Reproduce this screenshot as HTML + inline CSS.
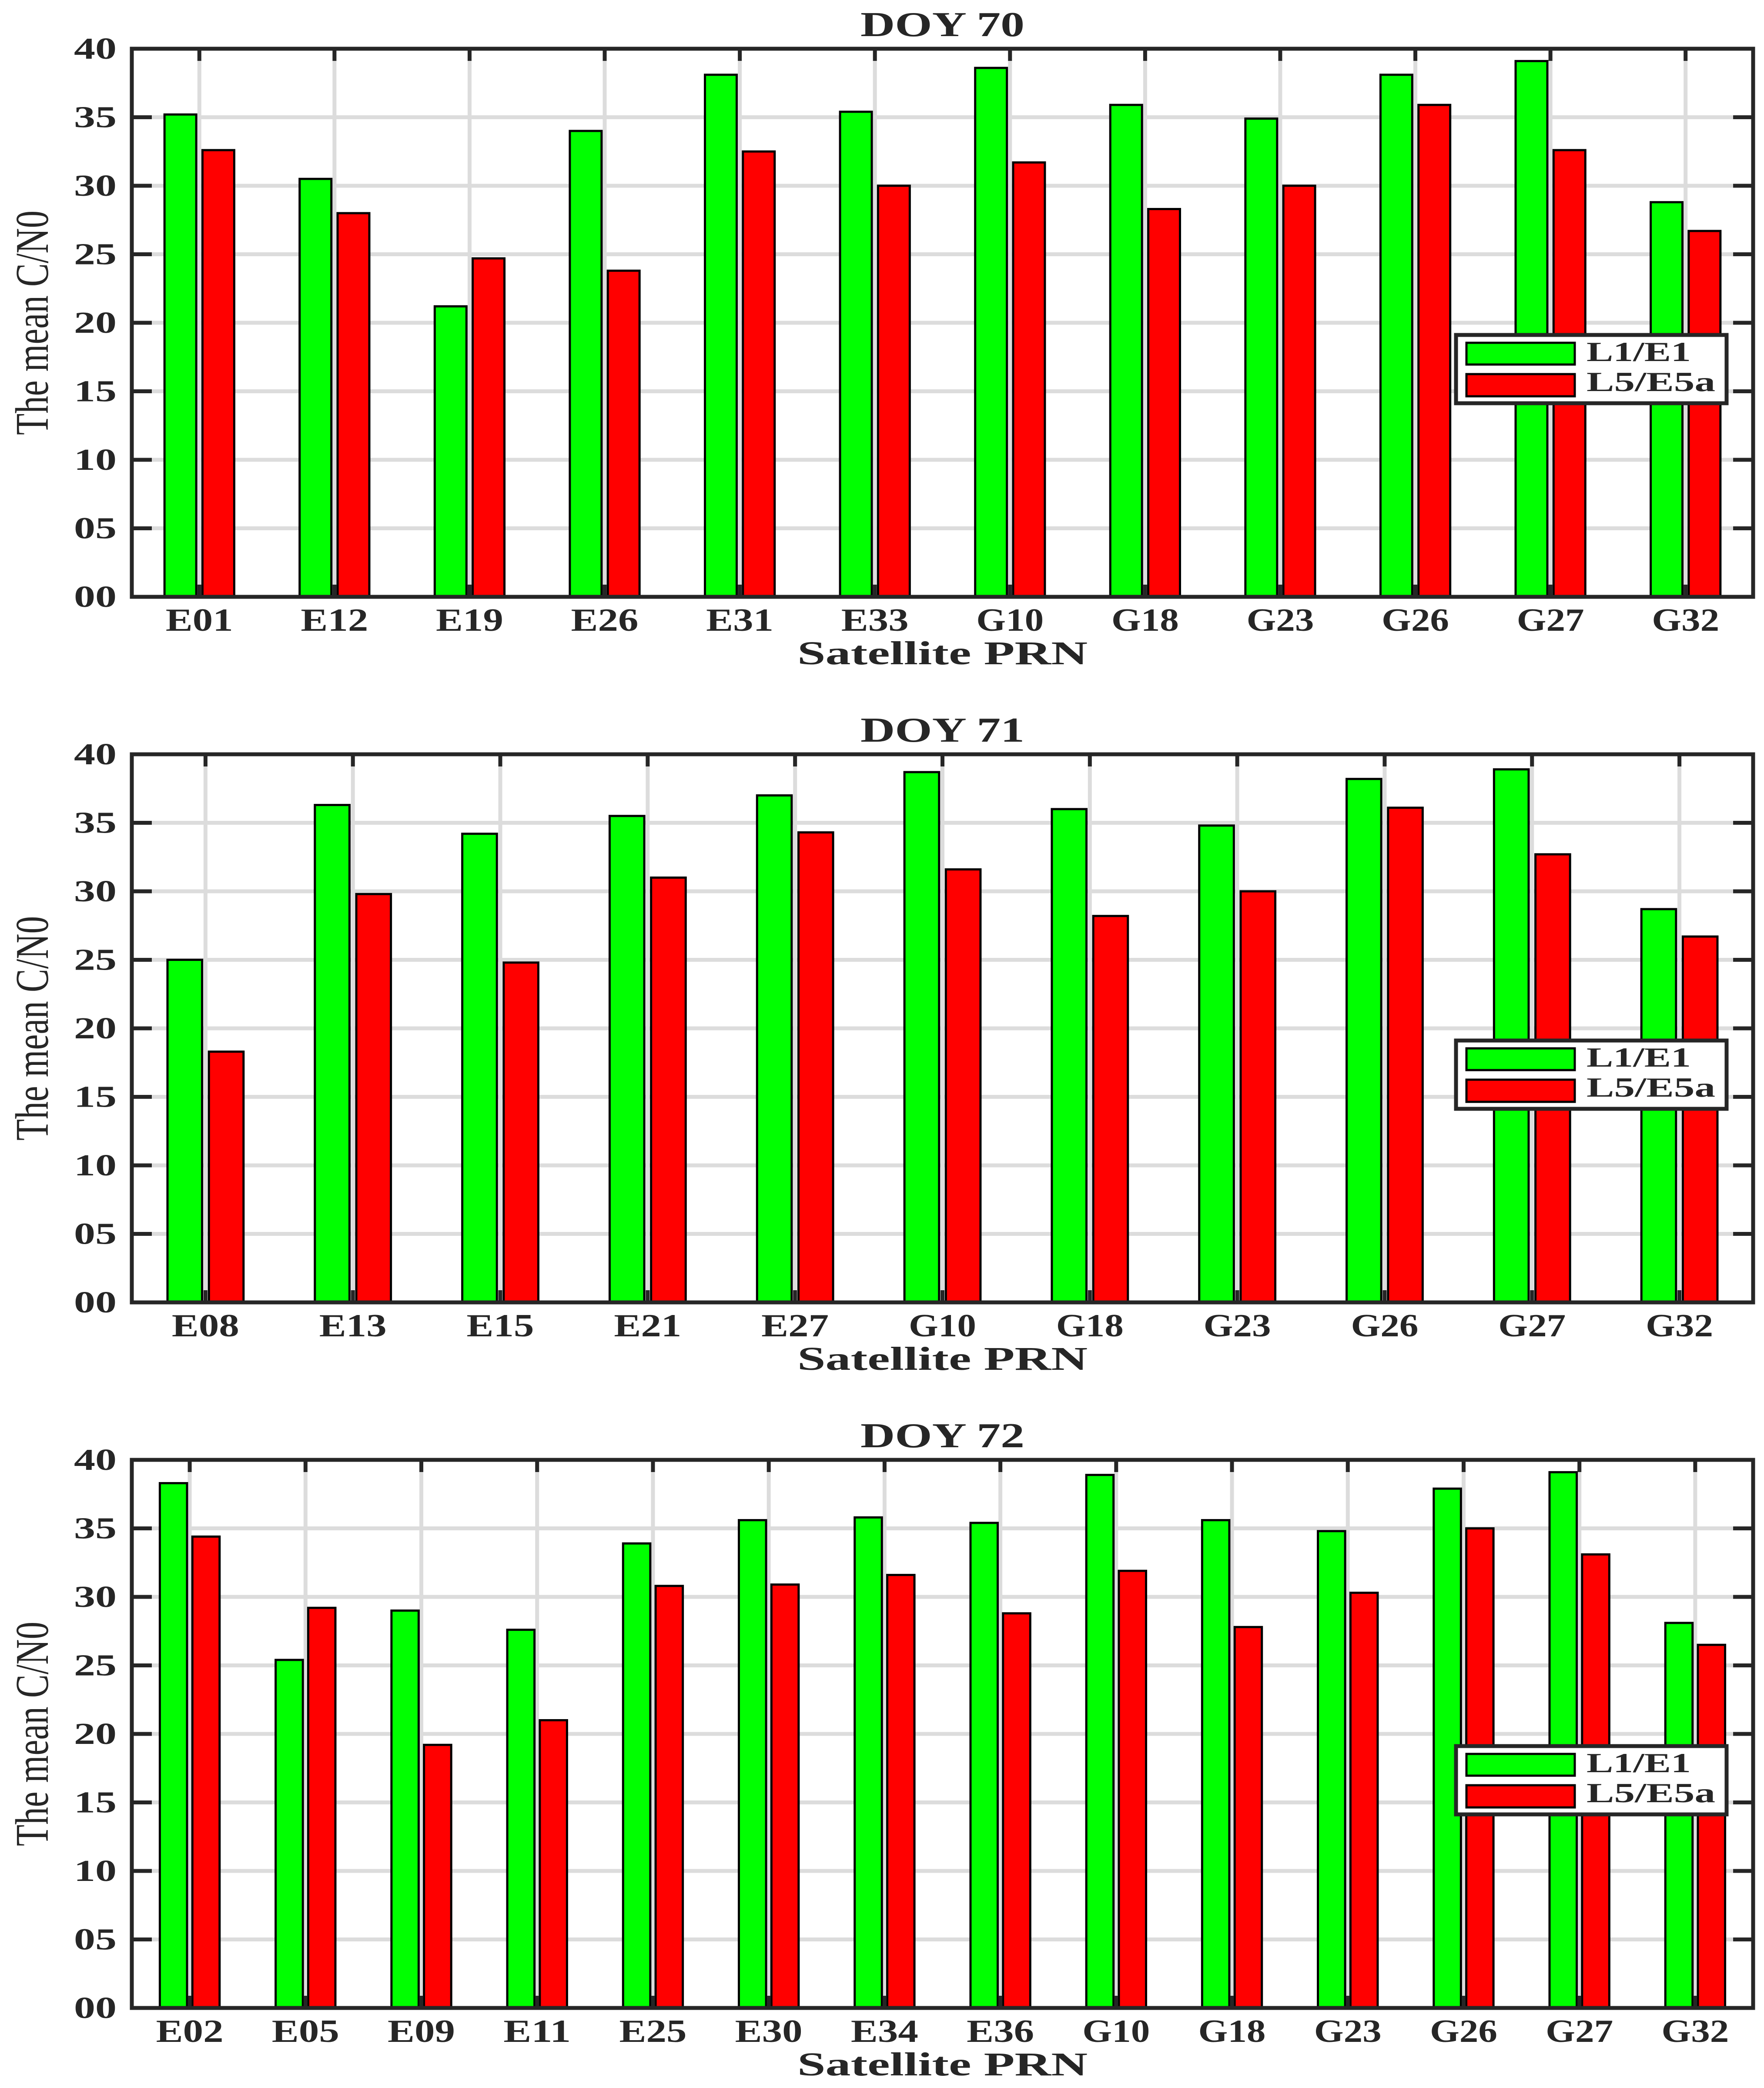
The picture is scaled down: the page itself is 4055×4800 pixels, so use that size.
<!DOCTYPE html>
<html><head><meta charset="utf-8"><style>
html,body{margin:0;padding:0;background:#fff;}
svg{display:block;}
text{font-family:"Liberation Serif",serif;fill:#262626;}
</style></head><body>
<svg id="fig" xmlns="http://www.w3.org/2000/svg" width="4055" height="4800" viewBox="0 0 4055 4800"></svg>
<script>
const doy70Cats = ["E01","E12","E19","E26","E31","E33","G10","G18","G23","G26","G27","G32"];
const doy70L1 = [35.2,30.5,21.2,34.0,38.1,35.4,38.6,35.9,34.9,38.1,39.1,28.8];
const doy70L5 = [32.6,28.0,24.7,23.8,32.5,30.0,31.7,28.3,30.0,35.9,32.6,26.7];
const doy71Cats = ["E08","E13","E15","E21","E27","G10","G18","G23","G26","G27","G32"];
const doy71L1 = [25.0,36.3,34.2,35.5,37.0,38.7,36.0,34.8,38.2,38.9,28.7];
const doy71L5 = [18.3,29.8,24.8,31.0,34.3,31.6,28.2,30.0,36.1,32.7,26.7];
const doy72Cats = ["E02","E05","E09","E11","E25","E30","E34","E36","G10","G18","G23","G26","G27","G32"];
const doy72L1 = [38.3,25.4,29.0,27.6,33.9,35.6,35.8,35.4,38.9,35.6,34.8,37.9,39.1,28.1];
const doy72L5 = [34.4,29.2,19.2,21.0,30.8,30.9,31.6,28.8,31.9,27.8,30.3,35.0,33.1,26.5];
const yTicks = [0,5,10,15,20,25,30,35,40];
const yTickLabels = ["00","05","10","15","20","25","30","35","40"];
const titles = ["DOY 70","DOY 71","DOY 72"];
const seriesNames = ["L1/E1","L5/E5a"];

const NS="http://www.w3.org/2000/svg";
const svg=document.getElementById('fig');
function mk(tag,attrs,parent){const e=document.createElementNS(NS,tag);for(const k in attrs)e.setAttribute(k,attrs[k]);(parent||svg).appendChild(e);return e;}

const L=303,R=4030,YMAX=40;
const tops=[112,1734,3356];
const H=1260;
const datasets=[[doy70Cats,doy70L1,doy70L5],[doy71Cats,doy71L1,doy71L5],[doy72Cats,doy72L1,doy72L5]];

datasets.forEach((ds,pi)=>{
  const [cats,g,r]=ds;
  const top=tops[pi],bot=top+H;
  const n=cats.length,slot=(R-L)/n;
  const xs=i=>L+slot*(i+0.5);
  const ys=v=>bot-v/YMAX*H;
  const grp=mk('g',{});
  
  
  yTicks.forEach(t=>{const ln=mk('line',{x1:L,x2:R,y1:ys(t),y2:ys(t),stroke:'#dcdcdc','stroke-width':9},grp);
    });
  cats.forEach((c,i)=>{const ln=mk('line',{x1:xs(i),x2:xs(i),y1:top,y2:bot,stroke:'#dcdcdc','stroke-width':9},grp);
    });
  cats.forEach((c,i)=>{
    const bg=mk('rect',{x:xs(i)-0.258*slot,width:0.235*slot,y:ys(g[i]),height:ys(0)-ys(g[i]),fill:'#00ff00',stroke:'#000','stroke-width':5},grp);
    
    
    const br=mk('rect',{x:xs(i)+0.023*slot,width:0.235*slot,y:ys(r[i]),height:ys(0)-ys(r[i]),fill:'#ff0000',stroke:'#000','stroke-width':5},grp);
    
    
  });
  cats.forEach((c,i)=>{
    mk('line',{x1:xs(i),x2:xs(i),y1:top,y2:top+28,stroke:'#262626','stroke-width':9},grp);
    mk('line',{x1:xs(i),x2:xs(i),y1:bot,y2:bot-28,stroke:'#262626','stroke-width':9},grp);
    const t=mk('text',{x:xs(i),y:bot+78,'text-anchor':'middle','font-size':74,'font-weight':'bold',textLength:155,lengthAdjust:'spacingAndGlyphs'},grp);
    t.textContent=c;
    
    
  });
  yTicks.forEach((v,k)=>{
    mk('line',{x1:L,x2:L+46,y1:ys(v),y2:ys(v),stroke:'#262626','stroke-width':9},grp);
    mk('line',{x1:R,x2:R-46,y1:ys(v),y2:ys(v),stroke:'#262626','stroke-width':9},grp);
    const t=mk('text',{x:268,y:ys(v)+23,'text-anchor':'end','font-size':70,'font-weight':'bold',textLength:98,lengthAdjust:'spacingAndGlyphs'},grp);
    t.textContent=yTickLabels[k];
    
    
  });
  const fr=mk('rect',{x:L,y:top,width:R-L,height:H,fill:'none',stroke:'#262626','stroke-width':9},grp);
  
  const ti=mk('text',{x:(L+R)/2,y:top-29,'text-anchor':'middle','font-size':80,'font-weight':'bold',fill:'#000',textLength:377,lengthAdjust:'spacingAndGlyphs'},grp);
  ti.textContent=titles[pi];
  const xl=mk('text',{x:(L+R)/2,y:bot+155,'text-anchor':'middle','font-size':76,'font-weight':'bold',textLength:667,lengthAdjust:'spacingAndGlyphs'},grp);
  xl.textContent='Satellite PRN';
  const cy=top+H/2;
  const yl=mk('text',{x:0,y:0,transform:`translate(110,${cy}) rotate(-90)`,'text-anchor':'middle','font-size':108,textLength:516,lengthAdjust:'spacingAndGlyphs'},grp);
  yl.textContent='The mean C/N0';
  const lg=mk('g',{},grp);
  
  mk('rect',{x:3347,y:top+658,width:622,height:157,fill:'#fff',stroke:'#262626','stroke-width':9},lg);
  const e1=mk('rect',{x:3371,y:top+676,width:249,height:50,fill:'#00ff00',stroke:'#000','stroke-width':5},lg);
  
  const e2=mk('rect',{x:3371,y:top+748,width:249,height:51,fill:'#ff0000',stroke:'#000','stroke-width':5},lg);
  
  const t1=mk('text',{x:3647,y:top+718,'font-size':64,'font-weight':'bold',fill:'#000',textLength:240,lengthAdjust:'spacingAndGlyphs'},lg);
  t1.textContent=seriesNames[0];
  const t2=mk('text',{x:3647,y:top+787,'font-size':64,'font-weight':'bold',fill:'#000',textLength:296,lengthAdjust:'spacingAndGlyphs'},lg);
  t2.textContent=seriesNames[1];
});
</script>
</body></html>
